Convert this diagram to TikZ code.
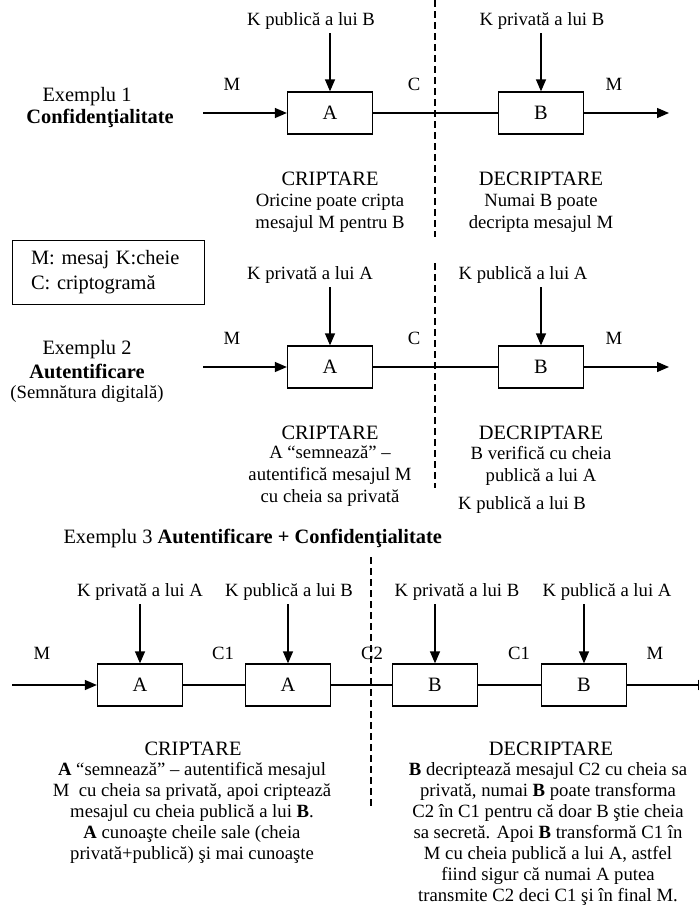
\documentclass[tikz,border=0pt]{standalone}
\usepackage{fontspec}
\setmainfont{Liberation Serif}
\usetikzlibrary{arrows.meta,positioning}

\begin{document}
\begin{tikzpicture}[x=1pt,y=-1pt,
  every node/.style={font=\fontsize{18.7}{22}\selectfont},
  big/.style={font=\fontsize{20.4}{25}\selectfont},
  box/.style={draw,line width=1.3pt,minimum width=85pt,minimum height=42pt,inner sep=0pt,big},
  flow/.style={line width=1.3pt,-{Triangle[length=12pt,width=10pt]}},
  link/.style={line width=1.3pt},
  cut/.style={line width=1.1pt,dash pattern=on 7pt off 4pt},
  desc/.style={align=center},
  tight/.style={align=center,font=\fontsize{18.7}{21}\selectfont},
]
  \useasboundingbox (0,0) rectangle (699,911);

  % rows 1 and 2: one key per side
  \foreach \r/\yy/\ka/\xa/\kb/\xb in {1/113/{K publică a lui B}/311/{K privată a lui B}/542,
                                      2/367/{K privată a lui A}/310/{K publică a lui A}/523}{
    \node[box] (A\r) at (330,\yy) {A};
    \node[box] (B\r) at (541,\yy) {B};
    \coordinate (in\r) at (203,\yy);
    \coordinate (out\r) at (669,\yy);
    \node (ka\r) at (\xa,\yy-92) {\ka};
    \node (kb\r) at (\xb,\yy-92) {\kb};
    \node (m\r) at (232,\yy-29) {M};
    \node (c\r) at (414,\yy-29) {C};
    \node (mo\r) at (614,\yy-29) {M};
    \draw[flow] (in\r) -- (A\r);
    \draw[link] (A\r) -- (B\r);
    \draw[flow] (B\r) -- (out\r);
    \draw[flow] (ka\r.south -| A\r.north) -- (A\r.north);
    \draw[flow] (kb\r.south -| B\r.north) -- (B\r.north);
    \node[big] (cr\r) at (330,\yy+66) {CRIPTARE};
    \node[big] (dc\r) at (541,\yy+66) {DECRIPTARE};
  }

  \node[big] (ex1) at (87,97) {Exemplu 1};
  \node[big] (ex1b) at (100,118) {\textbf{Confidenţialitate}};
  \node[desc] (d1a) at (330,213.5) {Oricine poate cripta\\mesajul M pentru B};
  \node[desc] (d1b) at (541,213.5) {Numai B poate\\decripta mesajul M};

  \node[draw,line width=1pt,big,align=left,text width=154pt,inner xsep=19pt,
        minimum height=64pt] (legend) at (108,272) {M: mesaj K:cheie\\C: criptogramă};

  \node[big] (ex2) at (87,350) {Exemplu 2};
  \node[big] (ex2b) at (87,371) {\textbf{Autentificare}};
  \node (ex2c) at (87,394) {(Semnătura digitală)};
  \node[desc] (d2a) at (330,476.5) {A “semnează” –\\autentifică mesajul M\\cu cheia sa privată};
  \node[desc] (d2b) at (541,465.5) {B verifică cu cheia\\publică a lui A};
  \node (kx) at (522,505) {K publică a lui B};

  \draw[cut] (435,0) -- (435,237);
  \draw[cut] (435,263) -- (435,488);

  % row 3: two keys per side
  \node[big,anchor=west] (ex3) at (60,538) {Exemplu 3 \textbf{Autentificare + Confidenţialitate}};
  \foreach \n/\t/\bx/\kx/\k in {a1/A/140/140/{K privată a lui A}, a2/A/288/289/{K publică a lui B},
                                b1/B/435/457/{K privată a lui B}, b2/B/584/607/{K publică a lui A}}{
    \node[box] (\n) at (\bx,685) {\t};
    \node (k\n) at (\kx,592) {\k};
    \draw[flow] (k\n.south -| \n.north) -- (\n.north);
  }
  \coordinate (in3) at (12,685);
  \coordinate (out3) at (710,685);
  \draw[flow] (in3) -- (a1);
  \draw[link] (a1) -- (a2);
  \draw[link] (a2) -- (b1);
  \draw[link] (b1) -- (b2);
  \draw[flow] (b2) -- (out3);
  \node (m3) at (42,653) {M};
  \node (c31) at (223,653) {C1};
  \node (c32) at (372,653) {C2};
  \node (c33) at (519,653) {C1};
  \node (mo3) at (655,653) {M};
  \draw[cut] (371,557) -- (371,808);

  \node[big] (cr3) at (193,749) {CRIPTARE};
  \node[big] (dc3) at (551,749) {DECRIPTARE};
  \node[tight] (d3a) at (192,813) {\textbf{A} “semnează” – autentifică mesajul\\
    M\ \ cu cheia sa privată, apoi criptează\\
    mesajul cu cheia publică a lui \textbf{B}.\\
    \textbf{A} cunoaşte cheile sale (cheia\\
    privată+publică) şi mai cunoaşte};
  \node[tight] (d3b) at (548,834) {\textbf{B} decriptează mesajul C2 cu cheia sa\\
    privată, numai \textbf{B} poate transforma\\
    C2 în C1 pentru că doar B ştie cheia\\
    sa secretă. Apoi \textbf{B} transformă C1 în\\
    M cu cheia publică a lui A, astfel\\
    fiind sigur că numai A putea\\
    transmite C2 deci C1 şi în final M.};
\end{tikzpicture}
\end{document}
